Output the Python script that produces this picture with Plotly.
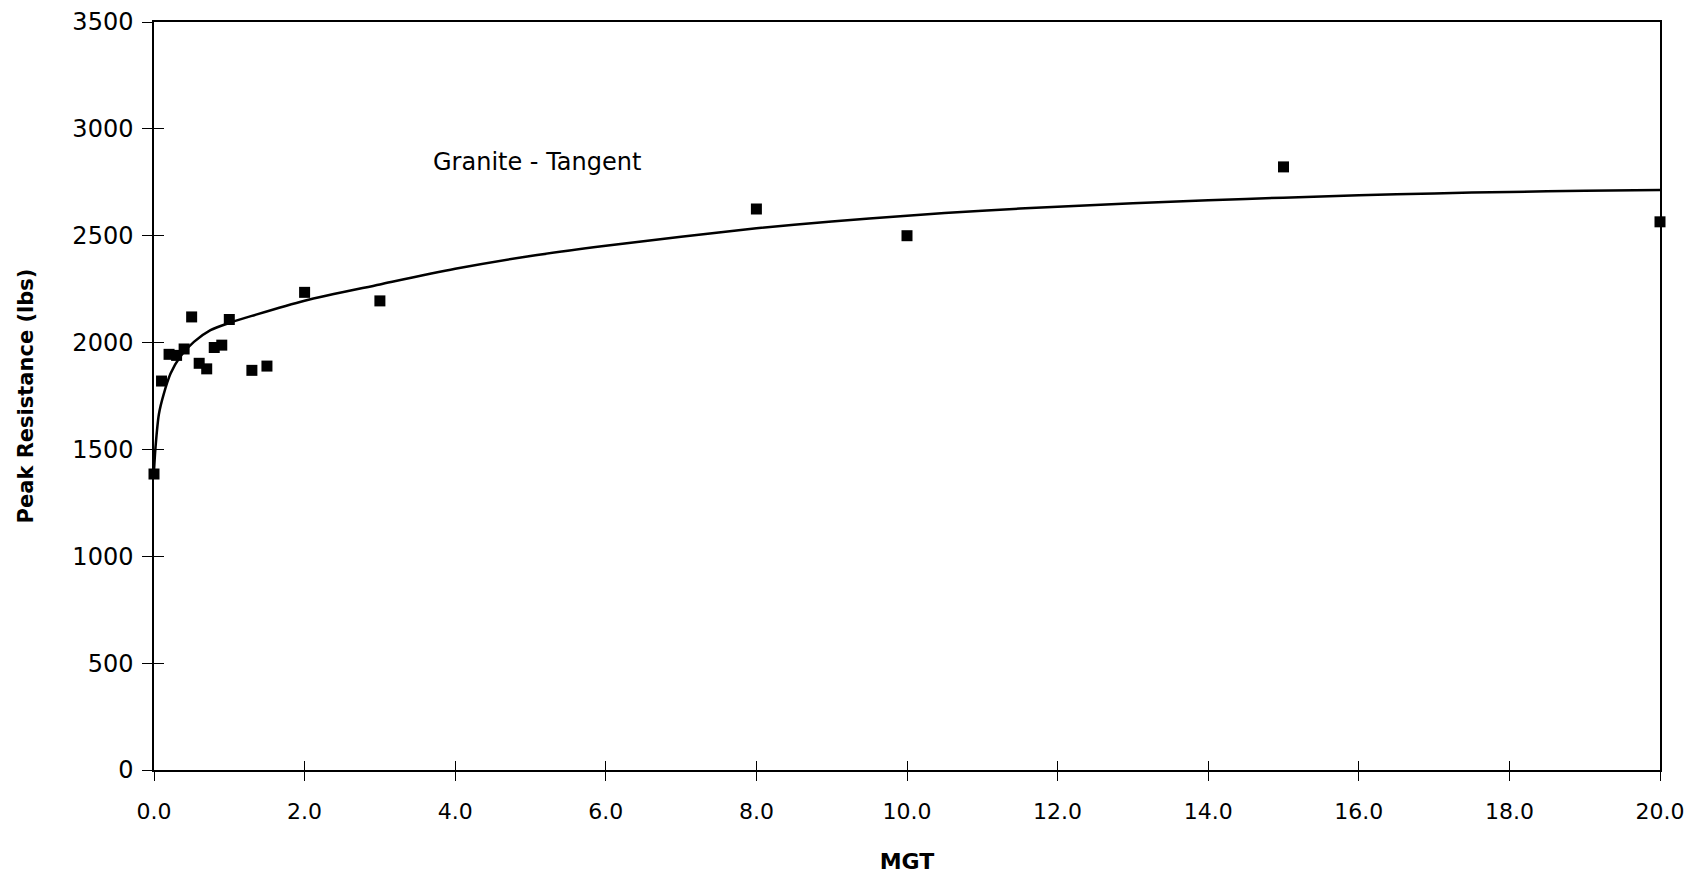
import plotly.graph_objects as go

# Measured data points (MGT, Peak Resistance lbs)
mgt = [0.0, 0.1, 0.2, 0.3, 0.4, 0.5, 0.6, 0.7, 0.8, 0.9, 1.0, 1.3, 1.5, 2.0, 3.0, 8.0, 10.0, 15.0, 20.0]
resistance = [1385, 1820, 1945, 1940, 1970, 2120, 1903, 1877, 1977, 1988, 2108, 1870, 1890, 2235, 2195, 2625, 2500, 2822, 2565]

# Trend curve
curve_x = [0.0, 0.02, 0.065, 0.13, 0.22, 0.35, 0.53, 0.75, 1.0, 1.3, 2.0, 3.0, 4.0, 5.0, 6.0, 7.0,
           8.0, 9.0, 10.0, 11.0, 12.0, 13.0, 14.0, 15.0, 16.0, 17.0, 18.0, 19.0, 20.0]
curve_y = [1400, 1510, 1665, 1760, 1855, 1935, 2003, 2058, 2092, 2125, 2196, 2272, 2345, 2405, 2453, 2495,
           2535, 2567, 2594, 2617, 2636, 2652, 2666, 2678, 2689, 2698, 2705, 2710, 2714]

x_ticks = [0, 2, 4, 6, 8, 10, 12, 14, 16, 18, 20]
x_tick_labels = ["0.0", "2.0", "4.0", "6.0", "8.0", "10.0", "12.0", "14.0", "16.0", "18.0", "20.0"]
y_ticks = [0, 500, 1000, 1500, 2000, 2500, 3000, 3500]

fig = go.Figure()
fig.add_trace(go.Scatter(x=curve_x, y=curve_y, mode="lines",
                         line=dict(color="black", width=2.5, shape="spline", smoothing=0.8),
                         showlegend=False, hoverinfo="skip"))
fig.add_trace(go.Scatter(x=mgt, y=resistance, mode="markers",
                         marker=dict(symbol="square", size=11, color="black"),
                         showlegend=False, cliponaxis=False))

fig.update_layout(
    width=1695, height=877,
    margin=dict(l=146, r=43, t=14, b=115),
    paper_bgcolor="white", plot_bgcolor="white",
    xaxis=dict(range=[0, 20], tickvals=x_ticks, ticktext=x_tick_labels, automargin=False,
               showgrid=False, zeroline=False, showline=True, linecolor="black", linewidth=1.5,
               mirror=True, ticks="outside", ticklen=9, tickwidth=1, tickcolor="black",
               ticklabelstandoff=12,
               tickfont=dict(family="DejaVu Sans", size=22, color="black"),
               title=dict(text="<b>MGT</b>", standoff=30,
                          font=dict(family="DejaVu Sans", size=22, color="black"))),
    yaxis=dict(range=[0, 3500], tickvals=y_ticks, automargin=False,
               showgrid=False, zeroline=False, showline=True, linecolor="black", linewidth=1.5,
               mirror=True, ticks="outside", ticklen=10, tickwidth=1, tickcolor="black",
               ticklabelstandoff=4,
               tickfont=dict(family="DejaVu Sans", size=24, color="black"),
               title=dict(text="<b>Peak Resistance (lbs)</b>", standoff=33,
                          font=dict(family="DejaVu Sans", size=21, color="black"))),
    xaxis2=dict(range=[0, 20], tickvals=x_ticks, overlaying="x", side="bottom", anchor="y",
                showticklabels=False, showgrid=False, zeroline=False, showline=False,
                ticks="inside", ticklen=9, tickwidth=1, tickcolor="black", automargin=False),
    yaxis2=dict(range=[0, 3500], tickvals=y_ticks, overlaying="y", side="left", anchor="x",
                showticklabels=False, showgrid=False, zeroline=False, showline=False,
                ticks="inside", ticklen=10, tickwidth=1, tickcolor="black", automargin=False),
    annotations=[dict(text="Granite - Tangent", x=5.08, y=2845, xref="x", yref="y",
                      showarrow=False, font=dict(family="DejaVu Sans", size=24, color="black"))],
)
# invisible trace to activate overlay axes
fig.add_trace(go.Scatter(x=[0], y=[0], xaxis="x2", yaxis="y2", mode="markers",
                         marker=dict(opacity=0), showlegend=False, hoverinfo="skip"))

fig.write_html("out.html")
